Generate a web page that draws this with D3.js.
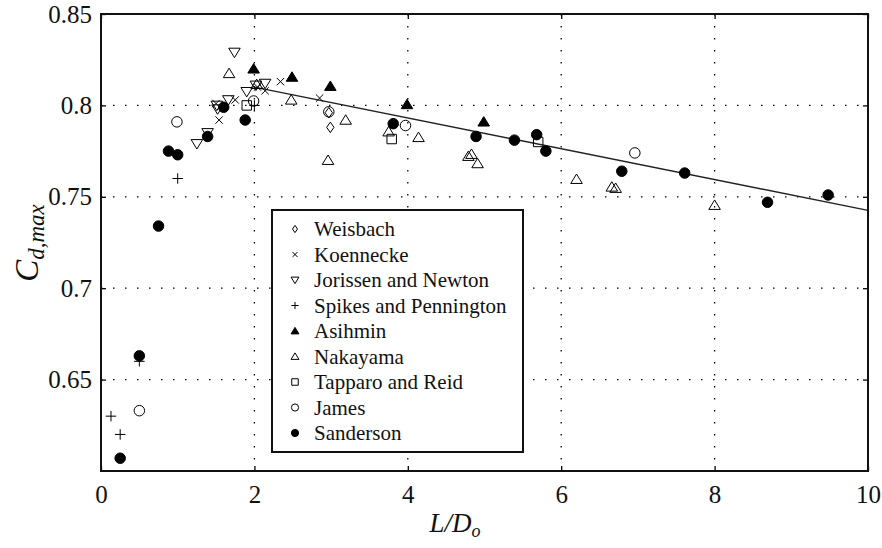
<!DOCTYPE html>
<html>
<head>
<meta charset="utf-8">
<script src="https://cdn.jsdelivr.net/npm/d3@7"></script>
<style>
  body { margin: 0; background: #fff; }
  svg { display: block; }
</style>
</head>
<body>
<script>
// series as [L/Do, Cd,max]
var weisbach = [[2.97, 0.796], [2.99, 0.788]];
var koennecke = [[1.50, 0.801], [1.54, 0.792], [1.75, 0.803], [2.04, 0.810], [2.14, 0.808], [2.34, 0.813], [2.85, 0.804]];
var jorissen = [[1.25, 0.779], [1.39, 0.785], [1.51, 0.800], [1.52, 0.798], [1.66, 0.803], [1.74, 0.829], [1.90, 0.8075], [2.02, 0.811], [2.14, 0.812]];
var spikes = [[0.13, 0.630], [0.25, 0.620], [0.50, 0.660], [1.00, 0.760], [2.00, 0.800]];
var asihmin = [[1.99, 0.820], [2.49, 0.8155], [2.99, 0.8105], [3.99, 0.8005], [4.99, 0.791]];
var nakayama = [[1.67, 0.8175], [2.03, 0.8115], [2.48, 0.803], [2.96, 0.770], [3.19, 0.792], [3.75, 0.7856], [4.14, 0.7825],
                [4.79, 0.7722], [4.83, 0.7733], [4.91, 0.7682], [6.20, 0.7596], [6.66, 0.7554], [6.71, 0.7547], [8.00, 0.7454]];
var tapparo = [[1.90, 0.800], [3.79, 0.7816], [5.70, 0.780]];
var james = [[0.50, 0.633], [0.99, 0.791], [1.99, 0.8024], [2.97, 0.7965], [3.97, 0.789], [6.96, 0.774]];
var sanderson = [[0.25, 0.607], [0.50, 0.663], [0.75, 0.734], [0.88, 0.775], [1.00, 0.773], [1.39, 0.783], [1.60, 0.799],
                 [1.88, 0.792], [3.81, 0.790], [4.89, 0.783], [5.39, 0.781], [5.68, 0.784], [5.80, 0.775], [6.79, 0.764],
                 [7.61, 0.763], [8.69, 0.747], [9.48, 0.751]];

// fitted line
var fitX = [2, 10];
var fitY = [0.81, 0.7426];

var xTicks = [0, 2, 4, 6, 8, 10];
var yTicks = [0.65, 0.7, 0.75, 0.8, 0.85];
var yTickLabels = ["0.65", "0.7", "0.75", "0.8", "0.85"];

var seriesNames = ["Weisbach", "Koennecke", "Jorissen and Newton", "Spikes and Pennington", "Asihmin",
                   "Nakayama", "Tapparo and Reid", "James", "Sanderson"];
var seriesData = [weisbach, koennecke, jorissen, spikes, asihmin, nakayama, tapparo, james, sanderson];
var seriesMarker = ["diamond", "cross", "tridown", "plus", "triup_f", "triup", "square", "circle", "circle_f"];

var w = 882, h = 548;
var plotL = 101, plotR = 868, plotT = 14, plotB = 471;

var svg = d3.select("body").append("svg")
    .attr("width", w)
    .attr("height", h);

var x = d3.scaleLinear().domain([0, 10]).range([plotL, plotR]);
var y = d3.scaleLinear().domain([0.6, 0.85]).range([plotB, plotT]);

// marker shapes, s = scale
function markerPath(type, s) {
  var p = d3.path();
  if (type == "diamond") {
    p.moveTo(0, -5 * s); p.lineTo(3.5 * s, 0); p.lineTo(0, 5 * s); p.lineTo(-3.5 * s, 0); p.closePath();
  } else if (type == "cross") {
    p.moveTo(-3.5 * s, -3.5 * s); p.lineTo(3.5 * s, 3.5 * s);
    p.moveTo(-3.5 * s, 3.5 * s); p.lineTo(3.5 * s, -3.5 * s);
  } else if (type == "tridown") {
    p.moveTo(-5.5 * s, -4 * s); p.lineTo(5.5 * s, -4 * s); p.lineTo(0, 5 * s); p.closePath();
  } else if (type == "plus") {
    p.moveTo(-5 * s, 0); p.lineTo(5 * s, 0);
    p.moveTo(0, -5 * s); p.lineTo(0, 5 * s);
  } else if (type == "triup" || type == "triup_f") {
    p.moveTo(-5.5 * s, 4 * s); p.lineTo(5.5 * s, 4 * s); p.lineTo(0, -5 * s); p.closePath();
  } else if (type == "square") {
    p.rect(-4.5 * s, -4.5 * s, 9 * s, 9 * s);
  } else {
    p.moveTo(5 * s, 0); p.arc(0, 0, 5 * s, 0, 2 * Math.PI);
  }
  return p.toString();
}
function isFilled(type) {
  return type == "triup_f" || type == "circle_f";
}

// grid
svg.append("g").selectAll("line")
  .data(xTicks.slice(1, -1))
  .enter().append("line")
  .attr("x1", function(d) { return x(d); })
  .attr("x2", function(d) { return x(d); })
  .attr("y1", plotT).attr("y2", plotB)
  .attr("stroke", "#000").attr("stroke-width", 1.3)
  .attr("stroke-dasharray", "1.5,10.5");

svg.append("g").selectAll("line")
  .data(yTicks.slice(0, -1))
  .enter().append("line")
  .attr("x1", plotL).attr("x2", plotR)
  .attr("y1", function(d) { return y(d); })
  .attr("y2", function(d) { return y(d); })
  .attr("stroke", "#000").attr("stroke-width", 1.3)
  .attr("stroke-dasharray", "1.5,10.5");

// fit line
svg.append("path")
  .datum(d3.zip(fitX, fitY))
  .attr("d", d3.line().x(function(d) { return x(d[0]); }).y(function(d) { return y(d[1]); }))
  .attr("fill", "none")
  .attr("stroke", "#222")
  .attr("stroke-width", 1.4);

// points
seriesData.forEach(function(data, i) {
  var type = seriesMarker[i];
  svg.append("g").selectAll("path")
    .data(data)
    .enter().append("path")
    .attr("transform", function(d) { return "translate(" + x(d[0]) + "," + y(d[1]) + ")"; })
    .attr("d", markerPath(type, 1.05))
    .attr("fill", isFilled(type) ? "#000" : "none")
    .attr("stroke", "#000")
    .attr("stroke-width", 1);
});

// axes
var tickFont = "'Liberation Serif', 'Times New Roman', serif";

var xAxis = svg.append("g")
  .attr("transform", "translate(0," + plotB + ")")
  .call(d3.axisBottom(x).tickValues(xTicks).tickSizeInner(-5).tickSizeOuter(0).tickPadding(14));
var xAxisTop = svg.append("g")
  .attr("transform", "translate(0," + plotT + ")")
  .call(d3.axisTop(x).tickValues(xTicks).tickSizeInner(-5).tickSizeOuter(0).tickFormat(""));
var yAxis = svg.append("g")
  .attr("transform", "translate(" + plotL + ",0)")
  .call(d3.axisLeft(y).tickValues(yTicks).tickSizeInner(-5).tickSizeOuter(0).tickPadding(9)
    .tickFormat(function(d, i) { return yTickLabels[i]; }));
var yAxisRight = svg.append("g")
  .attr("transform", "translate(" + plotR + ",0)")
  .call(d3.axisRight(y).tickValues(yTicks).tickSizeInner(-5).tickSizeOuter(0).tickFormat(""));

[xAxis, xAxisTop, yAxis, yAxisRight].forEach(function(g) {
  g.select(".domain").remove();
  g.selectAll("line").attr("stroke", "#000").attr("stroke-width", 1.3);
  g.selectAll("text").attr("font-family", tickFont).attr("font-size", 25).attr("fill", "#111");
});
xAxis.selectAll("text").attr("dy", "0.71em");

svg.append("rect")
  .attr("x", plotL).attr("y", plotT)
  .attr("width", plotR - plotL).attr("height", plotB - plotT)
  .attr("fill", "none").attr("stroke", "#111").attr("stroke-width", 2);

// axis titles
var xt = svg.append("text")
  .attr("x", 455).attr("y", 532)
  .attr("text-anchor", "middle")
  .attr("font-family", tickFont).attr("font-style", "italic")
  .attr("font-size", 27).attr("fill", "#111");
xt.append("tspan").text("L/D");
xt.append("tspan").attr("font-size", 18).attr("dy", 5).text("o");

var yt = svg.append("text")
  .attr("transform", "translate(38,243) rotate(-90)")
  .attr("text-anchor", "middle")
  .attr("font-family", tickFont).attr("font-style", "italic")
  .attr("font-size", 33).attr("fill", "#111");
yt.append("tspan").text("C");
yt.append("tspan").attr("font-size", 23).attr("dy", 6).text("d,max");

// legend
var lg = svg.append("g");
lg.append("rect")
  .attr("x", 272).attr("y", 210)
  .attr("width", 251).attr("height", 242)
  .attr("fill", "#fff").attr("stroke", "#111").attr("stroke-width", 2);

var rowY = d3.scalePoint().domain(seriesNames).range([229, 433]);
seriesNames.forEach(function(name, i) {
  var type = seriesMarker[i];
  lg.append("path")
    .attr("transform", "translate(295," + rowY(name) + ")")
    .attr("d", markerPath(type, 0.72))
    .attr("fill", isFilled(type) ? "#000" : "none")
    .attr("stroke", "#000").attr("stroke-width", 1);
  lg.append("text")
    .attr("x", 314).attr("y", rowY(name))
    .attr("dy", "0.35em")
    .attr("font-family", tickFont).attr("font-size", 21).attr("fill", "#111")
    .text(name);
});
</script>
</body>
</html>
